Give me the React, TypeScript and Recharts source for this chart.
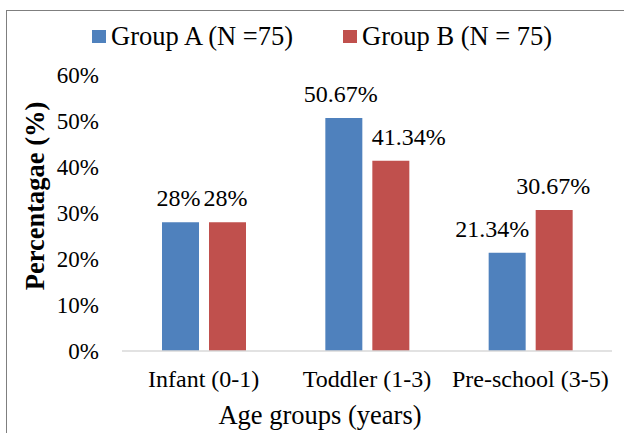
import React from 'react';
import { BarChart, Bar, XAxis, YAxis, Legend, LabelList } from 'recharts';

const categories = ['Infant (0-1)', 'Toddler (1-3)', 'Pre-school (3-5)'];
const groupA = [28, 50.67, 21.34];
const groupB = [28, 41.34, 30.67];
const yTicks = [0, 10, 20, 30, 40, 50, 60];

const seriesNames = ['Group A (N =75)', 'Group B (N = 75)'];
const seriesColors = ['#4F81BD', '#C0504D'];

// horizontal nudges of the value labels (Excel moved two of them aside)
const labelShiftA = [-2, -3, -15];
const labelShiftB = [-2, 18, -1];

const data = categories.map((name, i) => ({ name, a: groupA[i], b: groupB[i] }));

const FONT = '"Liberation Serif", "Times New Roman", serif';

const LegendBox = () => (
  <div style={{ display: 'flex', alignItems: 'center', fontFamily: FONT, fontSize: 26.5, color: '#000', whiteSpace: 'nowrap' }}>
    {seriesNames.map((n, i) => (
      <div key={n} style={{ display: 'flex', alignItems: 'center', marginRight: i === 0 ? 50 : 0 }}>
        <span style={{ display: 'inline-block', width: 14, height: 13, background: seriesColors[i], marginRight: 5 }} />
        <span>{n}</span>
      </div>
    ))}
  </div>
);

const YTitle = (props: any) => {
  const vb = props.viewBox || { x: 0, y: 75, width: 122, height: 276 };
  const cx = vb.x + 35;
  const cy = vb.y + vb.height / 2 - 17;
  return (
    <text x={cx} y={cy} transform={`rotate(-90, ${cx}, ${cy})`} textAnchor="middle" dominantBaseline="central"
      fontFamily={FONT} fontSize={26.5} fontWeight="bold" fill="#000">
      Percentagae (%)
    </text>
  );
};

const valueLabel = (shifts: number[]) => (props: any) => {
  const { x, y, width, value, index } = props;
  return (
    <text x={Number(x) + Number(width) / 2 + (shifts[index] || 0)} y={Number(y) - 16} textAnchor="middle"
      fontFamily={FONT} fontSize={24} fill="#000">
      {`${value}%`}
    </text>
  );
};

export default function App() {
  return (
    <div style={{ position: 'absolute', left: 0, top: 0, width: 624, height: 433, overflow: 'hidden', background: '#fff', fontFamily: FONT }}>
      <div style={{ position: 'absolute', left: 6, top: 10, width: 700, height: 500, border: '1.5px solid #7f7f7f' }} />
      <div style={{ position: 'absolute', left: 0, top: 0 }}>
        <BarChart width={624} height={433} data={data} margin={{ top: 75, right: 12, bottom: 0, left: 0 }}
          barSize={37} barGap={10}>
          <XAxis dataKey="name" height={82} tickLine={false} tickSize={0} tickMargin={19}
            axisLine={{ stroke: '#d9d9d9', strokeWidth: 1.5 }}
            tick={{ fontFamily: FONT, fontSize: 24, fill: '#000' }}
            label={{ value: 'Age groups (years)', position: 'insideBottom', offset: 9, dx: -47, fontFamily: FONT, fontSize: 26.5, fill: '#000' }} />
          <YAxis width={122} domain={[0, 60]} ticks={yTicks} tickLine={false} tickSize={0} tickMargin={23} axisLine={false}
            tickFormatter={(v: number) => `${v}%`}
            tick={{ fontFamily: FONT, fontSize: 23, fill: '#000' }}
            label={<YTitle />} />
          <Legend layout="horizontal" verticalAlign="middle" align="center" content={<LegendBox />}
            wrapperStyle={{ top: 21, left: 92, width: 480 }} />
          <Bar dataKey="a" name={seriesNames[0]} fill={seriesColors[0]} isAnimationActive={false}>
            <LabelList dataKey="a" content={valueLabel(labelShiftA)} />
          </Bar>
          <Bar dataKey="b" name={seriesNames[1]} fill={seriesColors[1]} isAnimationActive={false}>
            <LabelList dataKey="b" content={valueLabel(labelShiftB)} />
          </Bar>
        </BarChart>
      </div>
    </div>
  );
}
